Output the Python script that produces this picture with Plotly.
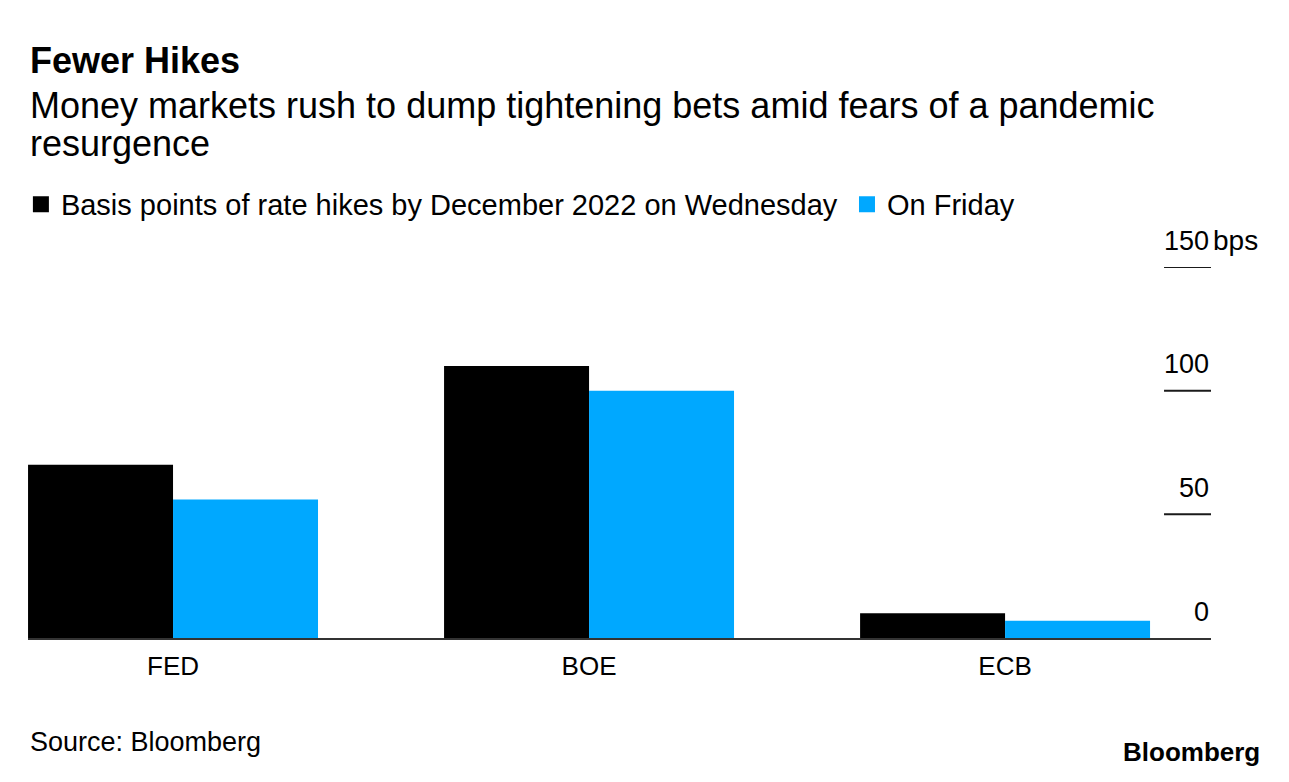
import plotly.graph_objects as go

categories = ["FED", "BOE", "ECB"]
wednesday = [70, 110, 10]
friday = [56, 100, 7]
series_names = ["Basis points of rate hikes by December 2022 on Wednesday", "On Friday"]
series_colors = ["#000000", "#00A8FF"]
tick_values = [0, 50, 100, 150]
tick_labels = ["0", "50", "100", "150"]
unit_label = "bps"

title_text = "Fewer Hikes"
subtitle_lines = ["Money markets rush to dump tightening bets amid fears of a pandemic", "resurgence"]
source_text = "Source: Bloomberg"
logo_text = "Bloomberg"

FONT = "Liberation Sans, Arial, sans-serif"

fig = go.Figure()
for name, vals, col in zip(series_names, [wednesday, friday], series_colors):
    fig.add_trace(go.Bar(x=categories, y=vals, name=name, marker=dict(color=col, line=dict(width=0)),
                         showlegend=False, hoverinfo="skip"))
for name, col, lg in zip(series_names, series_colors, ["legend", "legend2"]):
    fig.add_trace(go.Scatter(x=[None], y=[None], mode="markers", name=name, legend=lg,
                             marker=dict(symbol="square", size=16, color=col), hoverinfo="skip"))

annotations = []
annotations.append(dict(text="<b>%s</b>" % title_text, x=0, y=1.557, xref="paper", yref="paper",
                        xanchor="left", yanchor="middle", showarrow=False,
                        font=dict(family=FONT, size=36, color="#000")))
for i, (line, yy) in enumerate(zip(subtitle_lines, [1.4348, 1.3323])):
    annotations.append(dict(text=line, x=0, y=yy, xref="paper", yref="paper",
                            xanchor="left", yanchor="middle", showarrow=False,
                            font=dict(family=FONT, size=36, color="#000")))
for v, t in zip(tick_values, tick_labels):
    annotations.append(dict(text=t, x=1, y=v, xref="paper", yref="y", xanchor="right",
                            yanchor="middle", yshift=26.5, showarrow=False,
                            font=dict(family=FONT, size=27, color="#000")))
annotations.append(dict(text=unit_label, x=1, y=tick_values[-1], xref="paper", yref="y",
                        xanchor="left", yanchor="middle", yshift=26.5, xshift=0, showarrow=False,
                        font=dict(family=FONT, size=28, color="#000")))
annotations.append(dict(text=source_text, x=0, y=-0.2795, xref="paper", yref="paper",
                        xanchor="left", yanchor="middle", showarrow=False,
                        font=dict(family=FONT, size=27, color="#000")))
annotations.append(dict(text="<b>%s</b>" % logo_text, x=1.0431, y=-0.306, xref="paper", yref="paper",
                        xanchor="right", yanchor="middle", showarrow=False,
                        font=dict(family=FONT, size=26, color="#000")))

shapes = []
for v in tick_values[1:]:
    shapes.append(dict(type="line", xref="paper", yref="y", x0=0.9603, x1=1.0, y0=v, y1=v,
                       line=dict(color="#1a1a1a", width=2)))

legend_style = dict(orientation="h", xref="paper", yref="paper", y=1.169,
                    xanchor="left", yanchor="middle", font=dict(family=FONT, size=29, color="#000"),
                    itemclick=False, itemdoubleclick=False, bgcolor="rgba(0,0,0,0)")

# page body adds an 8px offset; margins compensate so plot area sits at (28, 267)
fig.update_layout(
    width=1289, height=782,
    margin=dict(l=20, r=86, t=259, b=152, autoexpand=False),
    paper_bgcolor="white", plot_bgcolor="white",
    barmode="group", bargap=0.303, bargroupgap=0,
    font=dict(family=FONT, color="#000"),
    showlegend=True,
    legend=dict(x=-0.006, **legend_style),
    legend2=dict(x=0.6923, **legend_style),
    xaxis=dict(type="category", range=[-0.3486, 2.495], showgrid=False, zeroline=False,
               showline=True, linecolor="#333", linewidth=1.5, ticks="",
               ticklabelstandoff=4, tickfont=dict(family=FONT, size=26, color="#000"),
               fixedrange=True),
    yaxis=dict(range=[0, 150], visible=False, fixedrange=True),
    annotations=annotations, shapes=shapes,
    hovermode=False,
)

fig.write_html("out.html", config={"displayModeBar": False})
